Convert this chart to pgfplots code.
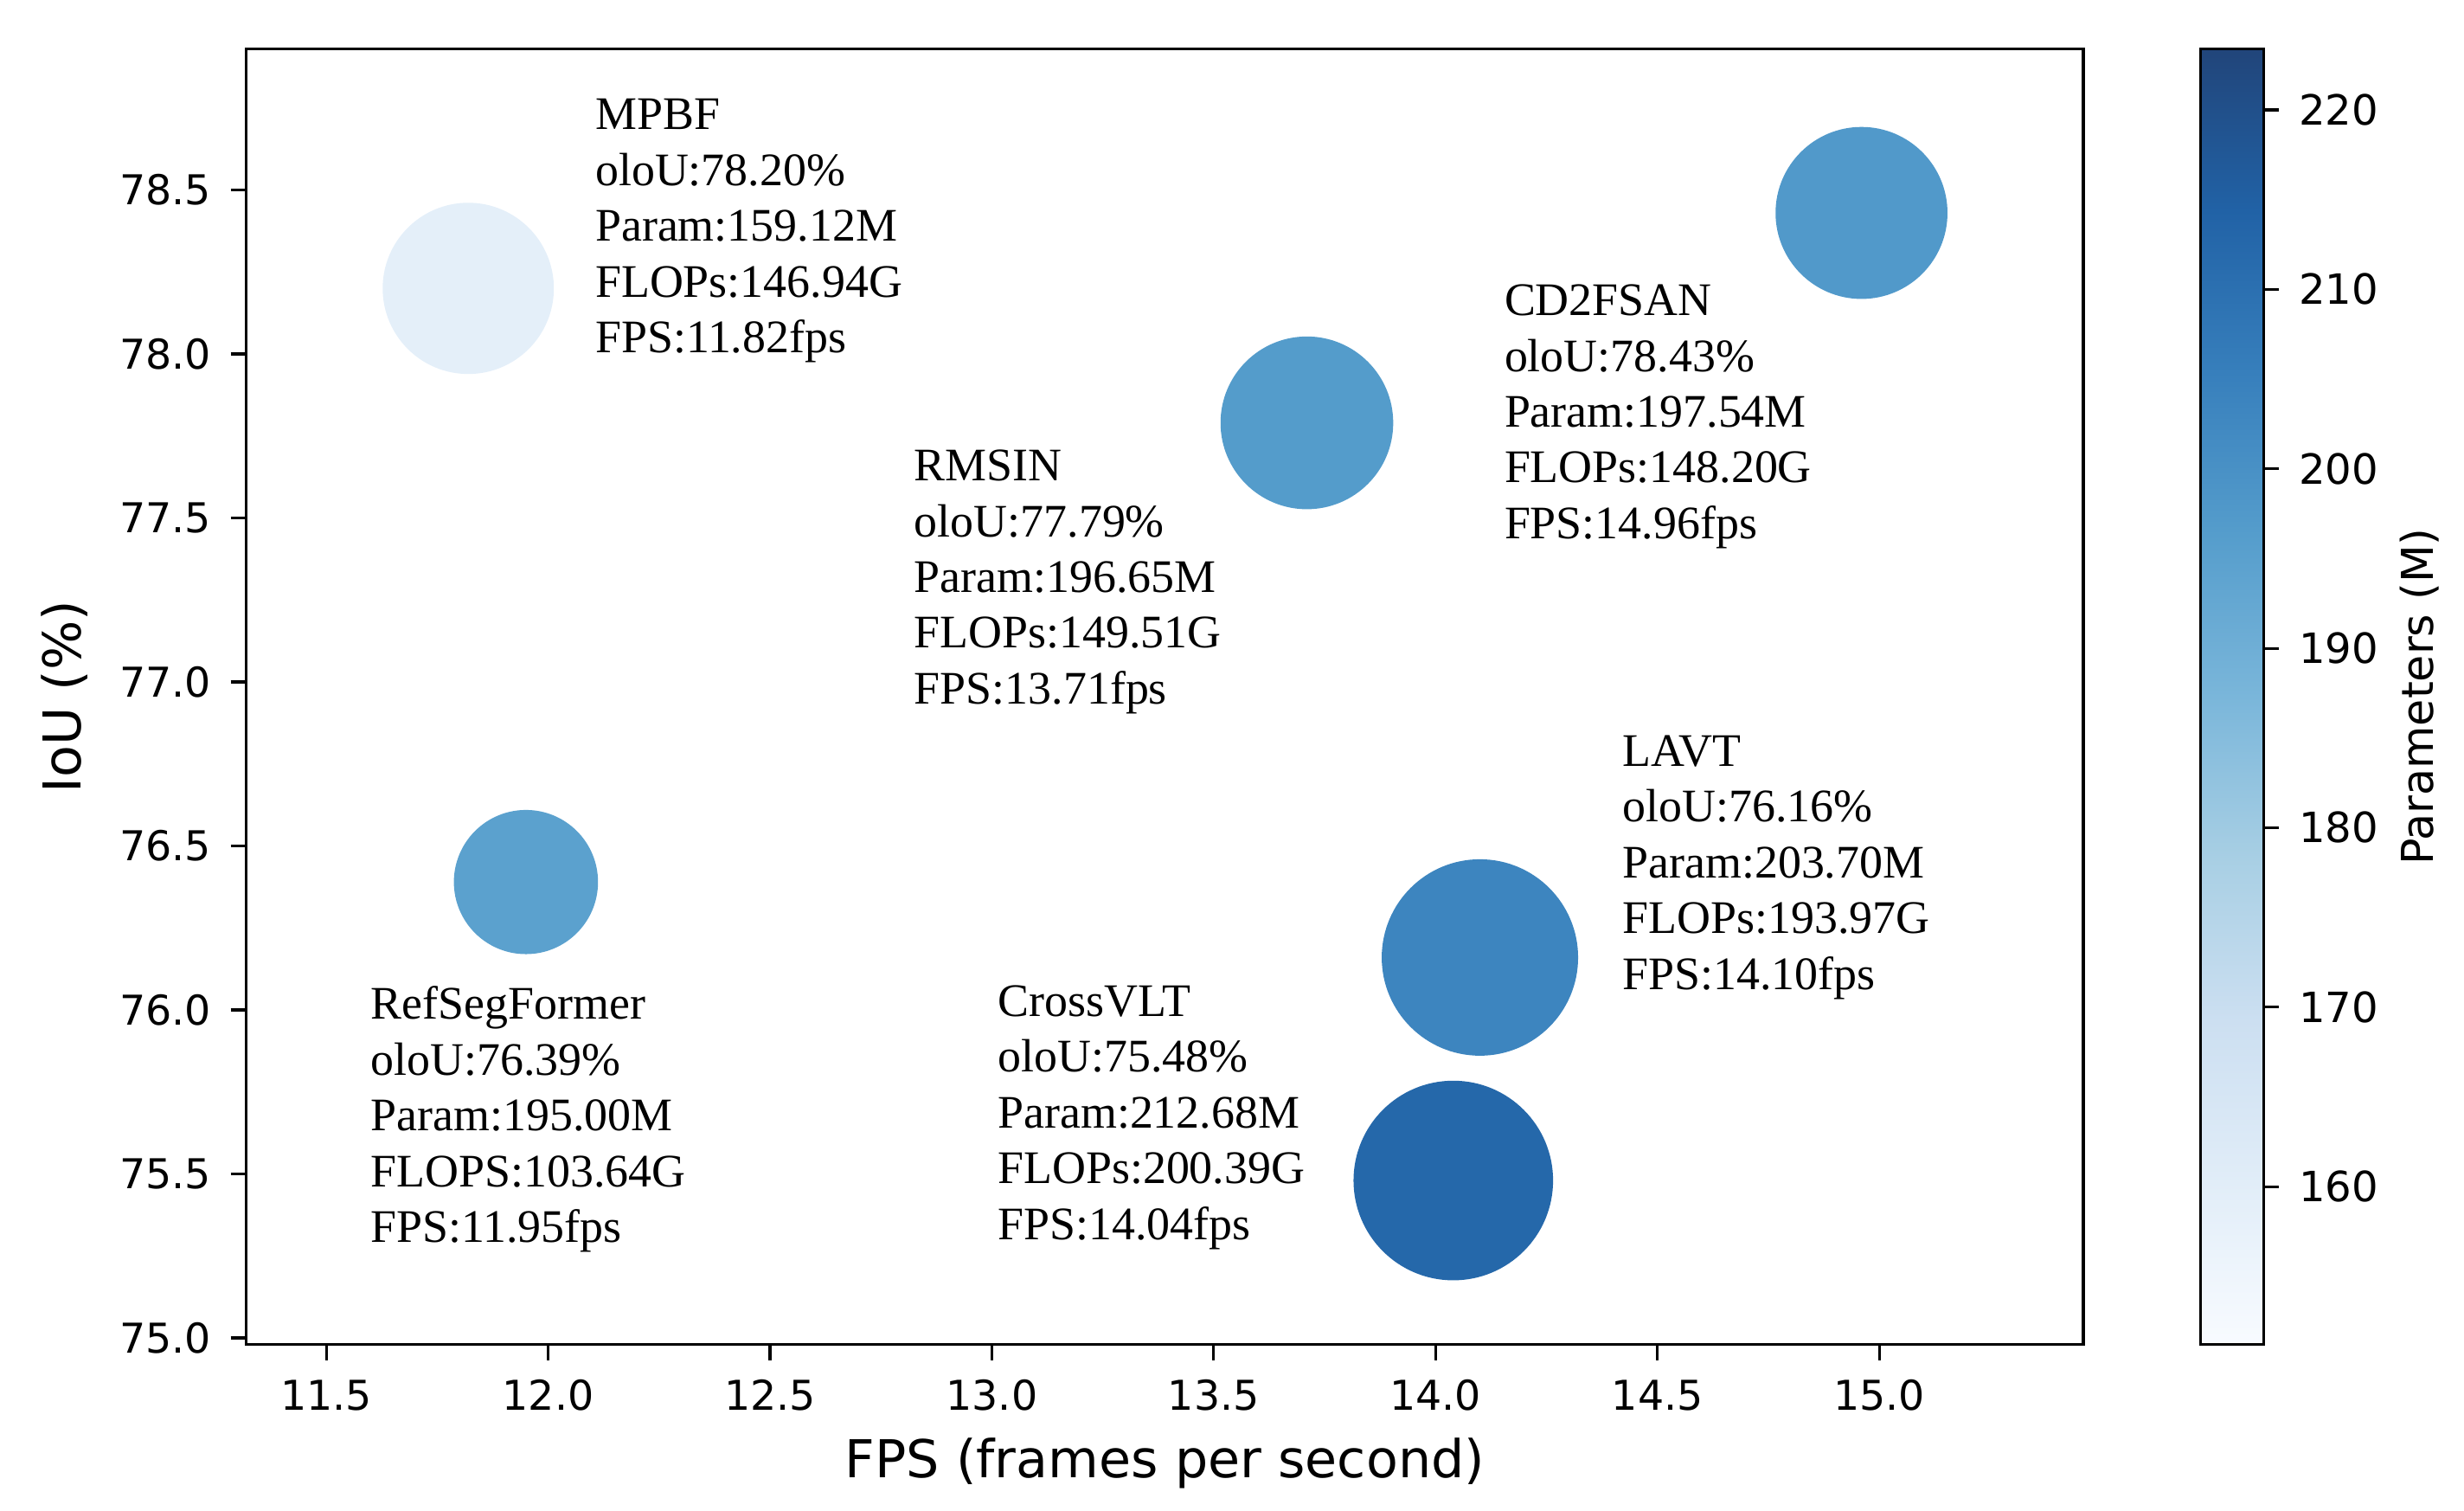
\documentclass[border=0pt]{standalone}
\usepackage{fontspec}
\setmainfont{Liberation Serif}
\newfontfamily\dejavu{DejaVu Sans}
\usepackage{pgfplots}
\usepackage{pgfplotstable}
\pgfplotsset{compat=1.18}

% matplotlib "Blues" seen through alpha=0.9
\pgfplotsset{
  colormap={bluesa}{
    rgb255(0cm)=(248,251,255) rgb255(1cm)=(225,237,248) rgb255(2cm)=(204,223,241)
    rgb255(3cm)=(168,207,228) rgb255(4cm)=(122,182,218) rgb255(5cm)=(85,157,204)
    rgb255(6cm)=(55,127,188) rgb255(7cm)=(33,98,166) rgb255(8cm)=(33,69,122)
  }
}

\pgfplotstableread{
fps   iou    param   flops
11.82 78.20  159.12  146.94
13.71 77.79  196.65  149.51
14.96 78.43  197.54  148.20
11.95 76.39  195.00  103.64
14.10 76.16  203.70  193.97
14.04 75.48  212.68  200.39
}\models

\begin{document}
\begin{tikzpicture}
\useasboundingbox (-15.6mm,-10.5mm) rectangle (140.4mm,85.1mm);
\begin{axis}[
    at={(0,0)}, anchor=south west,
    scale only axis,
    width=116.3mm, height=82mm,
    xmin=11.32, xmax=15.46,
    ymin=74.98, ymax=78.93,
    xtick={11.5,12,...,15.01},
    ytick={75,75.5,...,78.51},
    xticklabel style={/pgf/number format/.cd,fixed,fixed zerofill,precision=1},
    yticklabel style={/pgf/number format/.cd,fixed,fixed zerofill,precision=1},
    /pgf/number format/assume math mode=true,
    tick label style={font=\dejavu\fontsize{7.4}{9}\selectfont},
    label style={font=\dejavu\fontsize{9.4}{11}\selectfont},
    tick align=outside,
    major tick length=1mm,
    xtick pos=bottom, ytick pos=left,
    axis line style={line width=0.5pt},
    every tick/.style={black, line width=0.5pt},
    xlabel={FPS (frames per second)},
    ylabel={IoU (\%)},
    xlabel style={at={(axis description cs:0.5,-0.0915)}, anchor=center},
    ylabel style={at={(axis description cs:-0.0989,0.5)}, anchor=center},
    colormap name=bluesa,
    point meta min=151.2, point meta max=223.4,
    colorbar right,
    colorbar style={
        at={(parent axis.north east)}, anchor=north west, xshift=4.4mm,
        width=4mm, height=82mm,
        ytick={160,170,...,220},
        ytick pos=right, yticklabel pos=right,
        tick align=outside,
        major tick length=1mm,
        every tick/.style={black, line width=0.5pt},
        yticklabel style={font=\dejavu\fontsize{7.5}{9}\selectfont},
        /pgf/number format/assume math mode=true,
        ylabel={Parameters (M)},
        ylabel style={font=\dejavu\fontsize{7.9}{9}\selectfont,
                      at={(axis description cs:3.475,0.5)}, anchor=center},
        axis line style={line width=0.5pt},
    },
]
\addplot[
    scatter, only marks, mark=*,
    scatter/use mapped color={draw=mapped color, fill=mapped color},
    point meta=\thisrow{param},
    visualization depends on={0.4413*sqrt(\thisrow{flops}) \as \rad},
    scatter/@pre marker code/.append style={/tikz/mark size=\rad mm},
] table[x=fps, y=iou] {\models};

\begin{scope}[every node/.style={anchor=north west, align=left, inner sep=0pt,
    font=\fontsize{8.4}{10.05}\selectfont}]
\node at (axis cs:12.104,78.78) {MPBF\\oloU:78.20\%\\Param:159.12M\\FLOPs:146.94G\\FPS:11.82fps};
\node at (axis cs:12.823,77.711) {RMSIN\\oloU:77.79\%\\Param:196.65M\\FLOPs:149.51G\\FPS:13.71fps};
\node at (axis cs:14.153,78.215) {CD2FSAN\\oloU:78.43\%\\Param:197.54M\\FLOPs:148.20G\\FPS:14.96fps};
\node at (axis cs:11.598,76.075) {RefSegFormer\\oloU:76.39\%\\Param:195.00M\\FLOPS:103.64G\\FPS:11.95fps};
\node at (axis cs:13.011,76.078) {CrossVLT\\oloU:75.48\%\\Param:212.68M\\FLOPs:200.39G\\FPS:14.04fps};
\node at (axis cs:14.419,76.841) {LAVT\\oloU:76.16\%\\Param:203.70M\\FLOPs:193.97G\\FPS:14.10fps};
\end{scope}
\end{axis}
\end{tikzpicture}
\end{document}
